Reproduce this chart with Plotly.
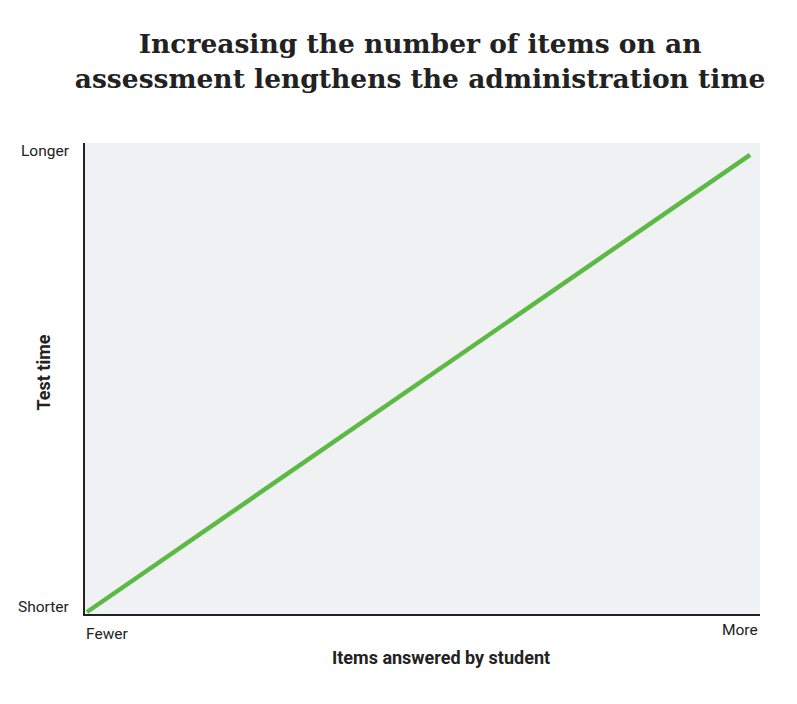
import plotly.graph_objects as go

x_vals = [0, 1]
y_vals = [0, 1]
x_tick_labels = ["Fewer", "More"]
y_tick_labels = ["Shorter", "Longer"]
title = "Increasing the number of items on an<br>assessment lengthens the administration time"

fig = go.Figure(go.Scatter(x=x_vals, y=y_vals, mode="lines",
                           line=dict(color="#5cb946", width=4.5), hoverinfo="skip"))

ann = [
    dict(x=0, y=0, xref="paper", yref="paper", text=x_tick_labels[0], xanchor="left", yanchor="top",
         yshift=-9, xshift=-1, showarrow=False),
    dict(x=1, y=0, xref="paper", yref="paper", text=x_tick_labels[1], xanchor="right", yanchor="top",
         yshift=-5, showarrow=False),
    dict(x=0, y=0, xref="paper", yref="paper", text=y_tick_labels[0], xanchor="right", yanchor="middle",
         xshift=-13, yshift=7, showarrow=False),
    dict(x=0, y=1, xref="paper", yref="paper", text=y_tick_labels[1], xanchor="right", yanchor="middle",
         xshift=-13, yshift=-8, showarrow=False),
    dict(x=0.5, y=0, xref="paper", yref="paper", text="<b>Items answered by student</b>",
         xanchor="center", yanchor="top", yshift=-31, xshift=18, showarrow=False, font=dict(size=18)),
    dict(x=0, y=0.5, xref="paper", yref="paper", text="<b>Test time</b>", textangle=-90,
         xanchor="center", yanchor="middle", xshift=-42, yshift=6, showarrow=False, font=dict(size=18)),
]

fig.update_layout(
    width=797, height=704,
    margin=dict(l=77, r=45, t=135, b=98),
    paper_bgcolor="white", plot_bgcolor="#f0f1f3",
    font=dict(family="Roboto", size=15.5, color="#222222"),
    title=dict(text="<b>" + title + "</b>", x=0.517, xanchor="center", y=0.936, yanchor="top",
               font=dict(family="DejaVu Serif", size=26.5, color="#222222")),
    xaxis=dict(range=[-0.003, 1.015], showgrid=False, zeroline=False, showticklabels=False,
               showline=True, linecolor="#222222", linewidth=1.5),
    yaxis=dict(range=[-0.0044, 1.026], showgrid=False, zeroline=False, showticklabels=False,
               showline=True, linecolor="#222222", linewidth=1.5),
    annotations=ann, showlegend=False,
)
fig.write_html("out.html")
